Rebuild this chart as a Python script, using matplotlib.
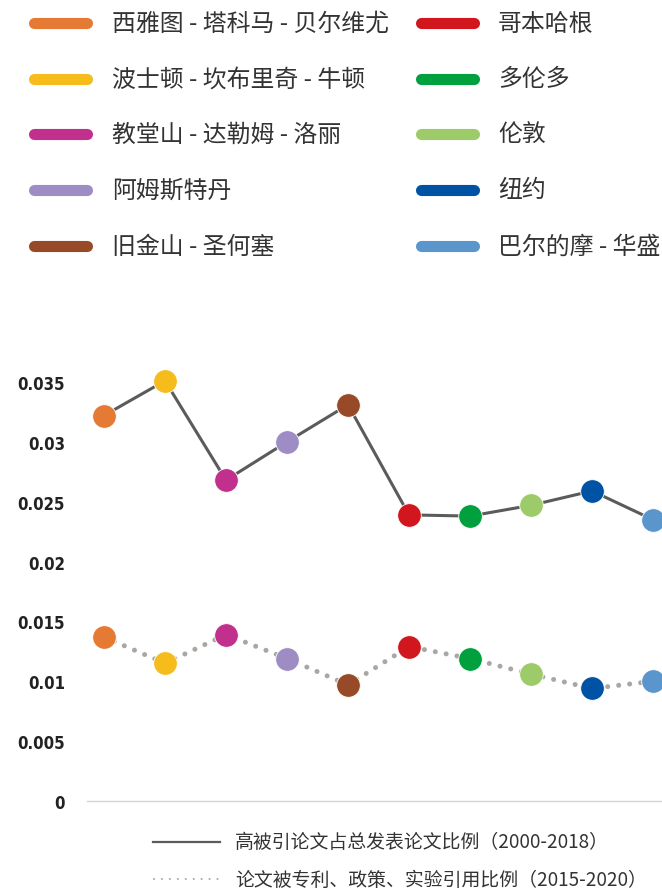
import matplotlib
matplotlib.use("Agg")
import matplotlib.pyplot as plt
from matplotlib.lines import Line2D

plt.rcParams['font.family'] = ['Noto Sans CJK SC', 'DejaVu Sans']

# 城市（图例顺序 = 点的顺序）
cities = ['西雅图 - 塔科马 - 贝尔维尤', '波士顿 - 坎布里奇 - 牛顿', '教堂山 - 达勒姆 - 洛丽',
          '阿姆斯特丹', '旧金山 - 圣何塞', '哥本哈根', '多伦多', '伦敦', '纽约', '巴尔的摩 - 华盛']
colors = ['#E57A35', '#F5BC1C', '#C0308C', '#9E8CC4', '#974A27',
          '#D2161E', '#00A03E', '#9ECB6A', '#0052A5', '#5A96CB']

# 高被引论文占总发表论文比例（2000-2018）
highly_cited = [0.0322, 0.0351, 0.0268, 0.0300, 0.0331, 0.0239, 0.0238, 0.0247, 0.0259, 0.0235]
# 论文被专利、政策、实验引用比例（2015-2020）
cited_by_other = [0.0137, 0.0115, 0.0139, 0.0119, 0.0097, 0.0129, 0.0119, 0.0106, 0.0094, 0.0100]

series_labels = ['高被引论文占总发表论文比例（2000-2018）', '论文被专利、政策、实验引用比例（2015-2020）']
yticks = [0, 0.005, 0.01, 0.015, 0.02, 0.025, 0.03, 0.035]
ytick_labels = ['0', '0.005', '0.01', '0.015', '0.02', '0.025', '0.03', '0.035']

W, H = 662, 895
fig = plt.figure(figsize=(W / 100, H / 100), dpi=100)


def fx(px):
    return px / W


def fy(py):
    return 1 - py / H


# 主图区域
ax = fig.add_axes([fx(87), fy(802), 1 - fx(87), (802 - 383) / H])
xs = list(range(len(cities)))
ax.plot(xs, highly_cited, color='#5b5b5b', lw=2.2, zorder=2)
ax.plot(xs, cited_by_other, color='#aaa6a2', lw=3.6, dashes=(0.01, 2.2),
        dash_capstyle='round', zorder=2)
for i in xs:
    for v in (highly_cited[i], cited_by_other[i]):
        ax.plot(i, v, 'o', ms=17, color=colors[i], mec='white', mew=0.6,
                zorder=3, clip_on=False)

ax.set_xlim(-17 / 61, 9 + 9 / 61)
ax.set_ylim(0, 0.035)
ax.set_xticks([])
ax.set_yticks(yticks)
ax.set_yticklabels(ytick_labels, family='DejaVu Sans', stretch='condensed',
                   fontweight='bold', fontsize=12, color='#222222')
ax.tick_params(axis='y', length=0, pad=16)
for s in ['top', 'right', 'left']:
    ax.spines[s].set_visible(False)
ax.spines['bottom'].set_color('#d5d5d5')
ax.spines['bottom'].set_linewidth(1)

# 顶部城市图例
row_y = [24, 80, 135, 191, 247]
col_line = [(34, 87), (421, 474)]
col_text = [112, 498]
for k, name in enumerate(cities):
    c, r = divmod(k, 5)
    x0, x1 = col_line[c]
    fig.add_artist(Line2D([fx(x0), fx(x1)], [fy(row_y[r]), fy(row_y[r])],
                          color=colors[k], lw=8, solid_capstyle='round'))
    fig.text(fx(col_text[c]), fy(row_y[r]), name, fontsize=17.2, color='#333333',
             va='center', ha='left')

# 底部系列图例
fig.add_artist(Line2D([fx(153), fx(220)], [fy(843), fy(843)], color='#5b5b5b', lw=1.6))
fig.add_artist(Line2D([fx(154), fx(220)], [fy(880), fy(880)], color='#aaa6a2', lw=1.5,
                      dashes=(0.01, 3.8), dash_capstyle='round'))
fig.text(fx(235), fy(843), series_labels[0], fontsize=13.6, color='#333333', va='center')
fig.text(fx(235), fy(880), series_labels[1], fontsize=13.6, color='#333333', va='center')

fig.savefig('out.png', dpi=100, facecolor='white')
